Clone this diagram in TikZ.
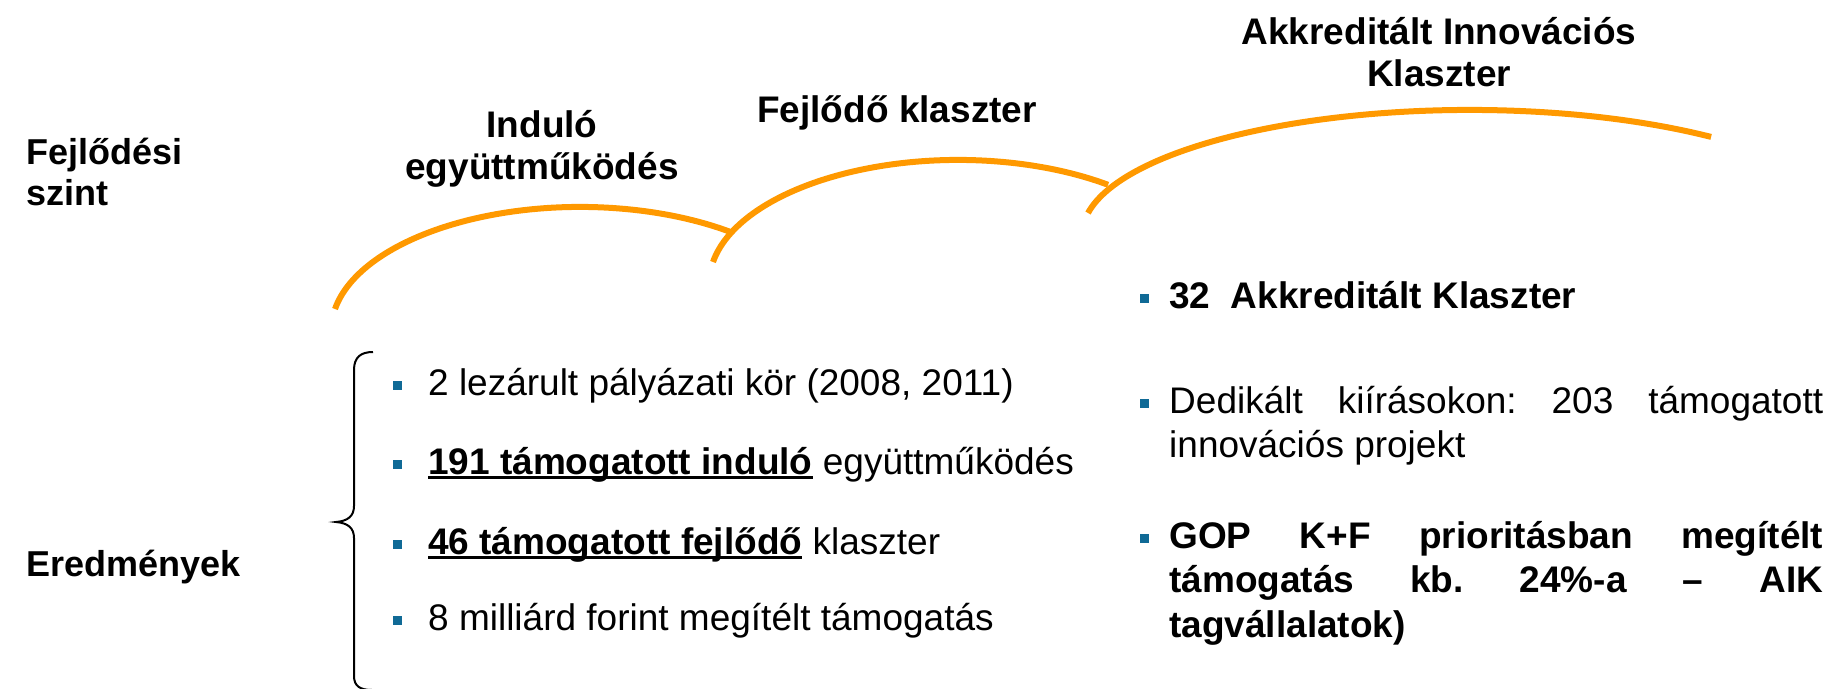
\documentclass[tikz,border=0pt]{standalone}
\usepackage{fontspec}
\setmainfont{Liberation Sans}
\frenchspacing
\definecolor{arcorange}{RGB}{255,153,0}
\definecolor{bulblue}{RGB}{16,106,150}
\newcommand\bul{\textcolor{bulblue}{\rule[5pt]{9pt}{9pt}}}
\newcommand\myul[1]{\leavevmode\setbox0\hbox{#1}\rlap{\rule[-4.5pt]{\wd0}{2.5pt}}\box0\relax}
\tikzset{
 ttl/.style={font=\fontsize{37}{42}\selectfont\bfseries, align=center, inner sep=0pt},
 lbl/.style={font=\fontsize{36}{41}\selectfont\bfseries, align=left, inner sep=0pt},
 bitem/.style={font=\fontsize{37}{44.5}\selectfont, inner sep=0pt, anchor=base west},
 arcline/.style={draw=arcorange, line width=6pt},
 bracel/.style={draw=black, line width=2pt},
}
\begin{document}
\begin{tikzpicture}[x=1pt,y=1pt]
\useasboundingbox (0,0) rectangle (1827,-688);
% arcs
\draw[arcline] (335,-309) coordinate (a1s) arc[start angle=170, end angle=53, x radius=249pt, y radius=123.5pt] coordinate (a1e);
\draw[arcline] (713,-262) coordinate (a2s) arc[start angle=170, end angle=53, x radius=249pt, y radius=123.5pt] coordinate (a2e);
\draw[arcline] (1088,-213) coordinate (a3s) arc[start angle=170, end angle=51.6, x radius=388pt, y radius=124.7pt] coordinate (a3e);
% brace
\draw[bracel] (373,-352) .. controls (361,-352) and (354,-357) .. (354,-370) -- (354,-506) .. controls (354,-516) and (348,-521) .. (336,-522) .. controls (348,-523) and (354,-528) .. (354,-538) -- (354,-676) .. controls (354,-686) and (360,-690) .. (372,-690);
% left labels
\node[lbl, anchor=west] (lvl) at (26,-172) {Fejlődési\\szint};
\node[lbl, anchor=west] (res) at (26,-567) {Eredmények};
% titles
\node[ttl] (t1) at (542,-149) {Induló\\együttműködés};
\node[ttl] (t2) at (897,-113) {Fejlődő klaszter};
\node[ttl] (t3) at (1439,-52) {Akkreditált Innovációs\\Klaszter};
% left items
\node[bitem] (l1) at (393,-395) {\bul\hspace{26pt}2 lezárult pályázati kör (2008, 2011)};
\node[bitem] (l2) at (393,-474) {\bul\hspace{26pt}\myul{\textbf{191 támogatott induló}} együttműködés};
\node[bitem] (l3) at (393,-554) {\bul\hspace{26pt}\myul{\textbf{46 támogatott fejlődő}} klaszter};
\node[bitem] (l4) at (393,-630) {\bul\hspace{26pt}8 milliárd forint megítélt támogatás};
% right items
\node[bitem] (r1) at (1140,-308) {\bul\hspace{20pt}\textbf{32\ \ Akkreditált Klaszter}};
\node[bitem] (r2) at (1140,-413) {\bul\hspace{20pt}\parbox[t]{654pt}{\makebox[654pt][s]{Dedikált kiírásokon: 203 támogatott}\\innovációs projekt}};
\node[bitem] (r3) at (1140,-548) {\bul\hspace{20pt}\parbox[t]{654pt}{\bfseries\makebox[654pt][s]{GOP K+F prioritásban megítélt}\\\makebox[654pt][s]{támogatás kb. 24\%-a – AIK}\\tagvállalatok)}};
\end{tikzpicture}
\end{document}
